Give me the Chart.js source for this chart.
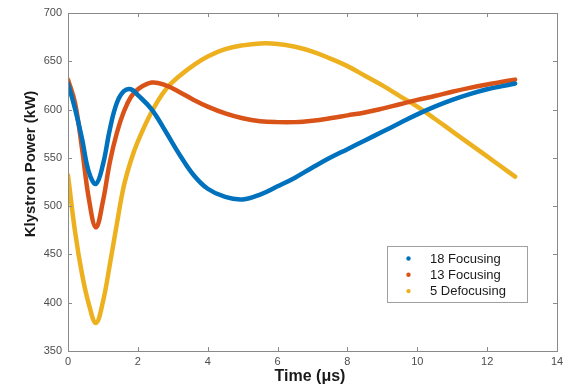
<!DOCTYPE html>
<html>
<head>
<meta charset="utf-8">
<script src="https://cdn.jsdelivr.net/npm/chart.js@4/dist/chart.umd.min.js"></script>
<style>
html,body{margin:0;padding:0;background:#fff;}
#wrap{width:570px;height:388px;position:relative;}
</style>
</head>
<body>
<div id="wrap"><canvas id="c" width="570" height="388"></canvas></div>
<script>
const timeUs = [0,0.2,0.4,0.6,0.8,1.0,1.2,1.4,1.6,1.8,2.0,2.4,2.8,3.2,3.6,4.0,4.5,5.0,5.5,6.0,6.5,7.0,7.5,8.0,8.5,9.0,9.5,10.0,10.5,11.0,11.5,12.0,12.4,12.8];
const focusing18 = [627,601,570,535,523,543,580,607,619,621,615,600,577,553,532,518,509.5,507,512,520.5,529.5,540,550,559,568,577,586,595,603,610,616,621,624,627];
const focusing13 = [631,607,560,507,478,505,546,576,598,613,621,628,625,618,610,603,596,591,588,587,587,588.5,591,594,597,601,605.5,610,614,618.5,622.5,626,628.5,631];
const defocusing5 = [532,474,430,398,379,401,440,482,521,547,567,598,621,635,646,655,662.5,666.5,668.5,668,665,660,653,645,635,625,614,603,590.5,577.5,564.5,551.5,541,530.5];
const seriesLabels = ['18 Focusing','13 Focusing','5 Defocusing'];
const seriesColors = ['#0072BD','#D95319','#EDB120'];
const xTicks = [0,2,4,6,8,10,12,14];
const yTicks = [350,400,450,500,550,600,650,700];
const xTitle = 'Time (\u03bcs)';
const yTitle = 'Klystron Power (kW)';

const allSeries = [focusing18, focusing13, defocusing5];
const datasets = allSeries.map((vals, i) => ({
  label: seriesLabels[i],
  data: vals.map((v, j) => ({x: timeUs[j], y: v})),
  borderColor: seriesColors[i],
  backgroundColor: seriesColors[i],
  borderWidth: 4.5,
  pointRadius: 0,
  borderCapStyle: 'round',
  borderJoinStyle: 'round',
  tension: 0.4,
  fill: false
}));

const axisGrey = '#8a8a8a';
const boxPlugin = {
  id: 'boxPlugin',
  afterDraw(chart) {
    const ctx = chart.ctx;
    const a = chart.chartArea;
    const xs = chart.scales.x, ys = chart.scales.y;
    ctx.save();
    ctx.strokeStyle = axisGrey;
    ctx.lineWidth = 1;
    ctx.strokeRect(Math.round(a.left)+0.5, Math.round(a.top)+0.5, Math.round(a.right-a.left), Math.round(a.bottom-a.top));
    ctx.beginPath();
    const tl = 4;
    xTicks.forEach(t => {
      const px = Math.round(xs.getPixelForValue(t)) + 0.5;
      ctx.moveTo(px, a.bottom); ctx.lineTo(px, a.bottom - tl);
      ctx.moveTo(px, a.top); ctx.lineTo(px, a.top + tl);
    });
    yTicks.forEach(t => {
      const py = Math.round(ys.getPixelForValue(t)) + 0.5;
      ctx.moveTo(a.left, py); ctx.lineTo(a.left + tl, py);
      ctx.moveTo(a.right, py); ctx.lineTo(a.right - tl, py);
    });
    ctx.stroke();

    // axis titles
    ctx.fillStyle = '#1a1a1a';
    ctx.font = 'bold 16px "Liberation Sans", Arial, sans-serif';
    ctx.textAlign = 'center';
    ctx.textBaseline = 'middle';
    ctx.fillText(xTitle, 310, 377);
    ctx.save();
    ctx.translate(31, 164);
    ctx.rotate(-Math.PI/2);
    ctx.font = 'bold 15px "Liberation Sans", Arial, sans-serif';
    ctx.fillText(yTitle, 0, 0);
    ctx.restore();

    // legend
    const lx = 387, ly = 246, lw = 140, lh = 56;
    ctx.fillStyle = '#ffffff';
    ctx.fillRect(lx, ly, lw, lh);
    ctx.strokeStyle = '#a0a0a0';
    ctx.strokeRect(lx + 0.5, ly + 0.5, lw, lh);
    ctx.font = '13px "Liberation Sans", Arial, sans-serif';
    ctx.textAlign = 'left';
    ctx.textBaseline = 'middle';
    chart.data.datasets.forEach((ds, i) => {
      const cy = 258.5 + i * 16.3;
      ctx.fillStyle = ds.borderColor;
      ctx.beginPath();
      ctx.arc(408.5, cy, 2.2, 0, Math.PI*2);
      ctx.fill();
      ctx.fillStyle = '#1a1a1a';
      ctx.fillText(ds.label, 430, cy + 0.5);
    });
    ctx.restore();
  }
};

new Chart(document.getElementById('c'), {
  type: 'line',
  data: { datasets },
  options: {
    responsive: false,
    animation: false,
    layout: { padding: { left: 0, top: 13, right: 13, bottom: 0 } },
    plugins: { legend: { display: false }, tooltip: { enabled: false } },
    scales: {
      x: {
        type: 'linear', min: 0, max: 14,
        afterBuildTicks: s => { s.ticks = xTicks.map(v => ({value: v})); },
        afterFit: s => { s.height = 37; },
        grid: { display: false, drawTicks: false },
        border: { display: false },
        ticks: { padding: 4, color: '#4d4d4d', font: { size: 11, family: '"Liberation Sans", Arial, sans-serif' }, maxRotation: 0 }
      },
      y: {
        type: 'linear', min: 350, max: 700,
        afterBuildTicks: s => { s.ticks = yTicks.map(v => ({value: v})); },
        afterFit: s => { s.width = 68; },
        grid: { display: false, drawTicks: false },
        border: { display: false },
        ticks: { padding: 6, color: '#4d4d4d', font: { size: 11, family: '"Liberation Sans", Arial, sans-serif' } }
      }
    }
  },
  plugins: [boxPlugin]
});
</script>
</body>
</html>
